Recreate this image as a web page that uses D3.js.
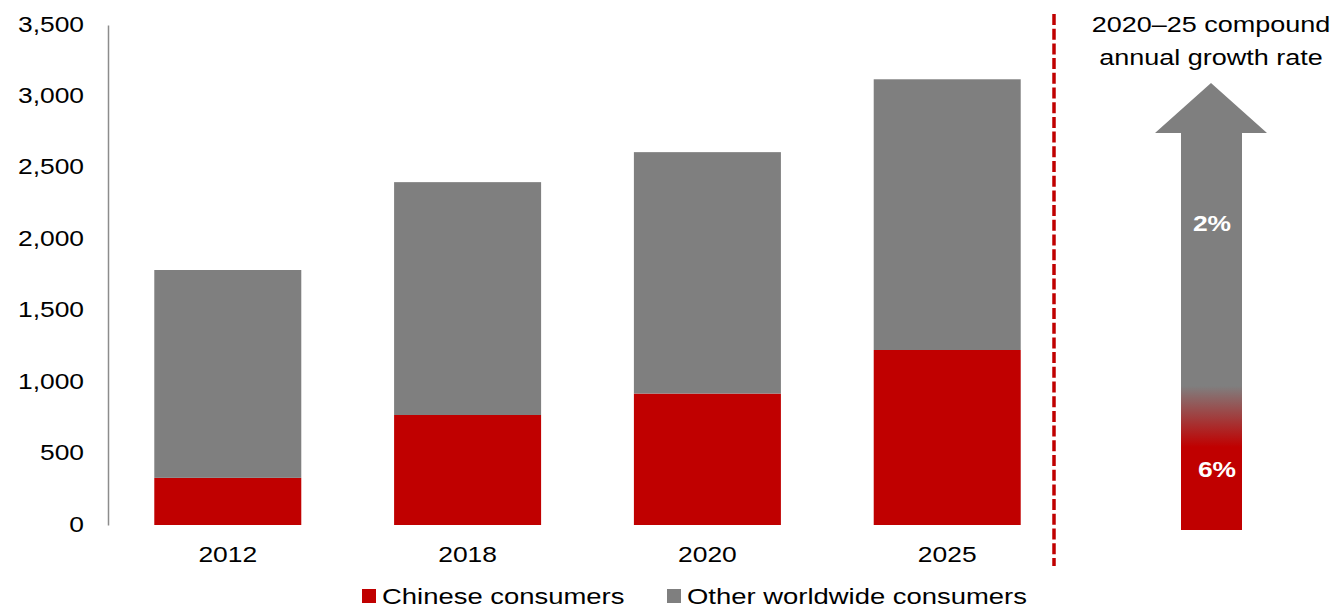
<!DOCTYPE html>
<html>
<head>
<meta charset="utf-8">
<script src="https://cdn.jsdelivr.net/npm/d3@7"></script>
<style>
  html, body { margin: 0; padding: 0; background: #fff; }
  svg { display: block; font-family: "Liberation Sans", Arial, sans-serif; }
</style>
</head>
<body>
<svg id="chart" width="1332" height="607"></svg>
<script>
// Consumers by year (stacked), and 2020–25 growth rates
const years = ["2012", "2018", "2020", "2025"];
const chinese = [330, 770, 920, 1225];
const otherWorldwide = [1455, 1630, 1690, 1895];
const yTicks = [0, 500, 1000, 1500, 2000, 2500, 3000, 3500];
const seriesNames = ["Chinese consumers", "Other worldwide consumers"];
const cagrLabels = ["2%", "6%"]; // other worldwide, chinese
const cagrTitle = ["2020–25 compound", "annual growth rate"];

const RED = "#c00000";
const GREY = "#7f7f7f";
const SX = 1.2; // horizontal stretch of the lettering

const svg = d3.select("#chart");

const rows = years.map((y, i) => ({ year: y, chinese: chinese[i], other: otherWorldwide[i] }));
const stack = d3.stack().keys(["chinese", "other"]);
const layers = stack(rows);
const colors = { chinese: RED, other: GREY };

const x = d3.scaleBand().domain(years).range([108, 1067]).paddingInner(0.387).paddingOuter(0.193);
const y = d3.scaleLinear().domain([0, 3500]).range([525, 25]);

// stretched text helper
function stretchedText(sel, tx, ty, str, opts = {}) {
  return sel.append("text")
    .attr("transform", `translate(${tx},${ty}) scale(${opts.sx || SX},1)`)
    .attr("text-anchor", opts.anchor || "middle")
    .attr("font-size", opts.size || 22)
    .attr("font-weight", opts.weight || "normal")
    .attr("fill", opts.fill || "#000")
    .text(str);
}

// y axis
const yAxis = svg.append("g")
  .attr("transform", "translate(108,0)")
  .call(d3.axisLeft(y).tickValues(yTicks).tickSize(0).tickFormat(d3.format(",")));
yAxis.select(".domain").attr("stroke", "#8c8c8c").attr("stroke-width", 1.5);
yAxis.selectAll(".tick text")
  .attr("x", 0)
  .attr("dy", null)
  .attr("transform", "translate(-24,6) scale(" + SX + ",1)")
  .attr("font-size", 22)
  .attr("font-family", "Liberation Sans, Arial, sans-serif")
  .attr("fill", "#000");

// stacked bars
svg.append("g").selectAll("g")
  .data(layers)
  .join("g")
  .attr("fill", d => colors[d.key])
  .selectAll("rect")
  .data(d => d)
  .join("rect")
  .attr("x", d => x(d.data.year))
  .attr("width", x.bandwidth())
  .attr("y", d => y(d[1]))
  .attr("height", d => y(d[0]) - y(d[1]));

// category labels
const xAxis = svg.append("g")
  .attr("transform", "translate(0,525)")
  .call(d3.axisBottom(x).tickSize(0));
xAxis.select(".domain").remove();
xAxis.selectAll(".tick text")
  .attr("y", 0)
  .attr("dy", null)
  .attr("transform", "translate(0,37) scale(" + SX + ",1)")
  .attr("font-size", 22)
  .attr("font-family", "Liberation Sans, Arial, sans-serif")
  .attr("fill", "#000");

// divider
svg.append("line")
  .attr("x1", 1054).attr("x2", 1054)
  .attr("y1", 14).attr("y2", 566)
  .attr("stroke", RED)
  .attr("stroke-width", 3.5)
  .attr("stroke-dasharray", "11,3.7");

// growth-rate panel title
cagrTitle.forEach((t, i) => stretchedText(svg, 1211, 32 + i * 33, t, { size: 22.5 }));

// growth arrow with grey-to-red fade
const defs = svg.append("defs");
const grad = defs.append("linearGradient")
  .attr("id", "arrowFade")
  .attr("gradientUnits", "userSpaceOnUse")
  .attr("x1", 0).attr("x2", 0).attr("y1", 83).attr("y2", 530);
grad.append("stop").attr("offset", (386 - 83) / (530 - 83)).attr("stop-color", GREY);
grad.append("stop").attr("offset", (447 - 83) / (530 - 83)).attr("stop-color", RED);

const ax = { tipX: 1211, tipY: 83, headY: 133, headL: 1155, headR: 1267, shaftL: 1181, shaftR: 1242, bottom: 530 };
const arrowPath = d3.path();
arrowPath.moveTo(ax.tipX, ax.tipY);
arrowPath.lineTo(ax.headR, ax.headY);
arrowPath.lineTo(ax.shaftR, ax.headY);
arrowPath.lineTo(ax.shaftR, ax.bottom);
arrowPath.lineTo(ax.shaftL, ax.bottom);
arrowPath.lineTo(ax.shaftL, ax.headY);
arrowPath.lineTo(ax.headL, ax.headY);
arrowPath.closePath();
svg.append("path").attr("d", arrowPath.toString()).attr("fill", "url(#arrowFade)");

stretchedText(svg, 1212, 231, cagrLabels[0], { size: 22, weight: "bold", fill: "#fff" });
stretchedText(svg, 1217, 477, cagrLabels[1], { size: 22, weight: "bold", fill: "#fff" });

// legend
const legendItems = [
  { name: seriesNames[0], color: RED, x: 362 },
  { name: seriesNames[1], color: GREY, x: 667 }
];
const lg = svg.append("g");
legendItems.forEach(it => {
  lg.append("rect").attr("x", it.x).attr("y", 589).attr("width", 14).attr("height", 14).attr("fill", it.color);
  stretchedText(lg, it.x + 20, 604, it.name, { size: 22.5, anchor: "start", sx: 1.22 });
});
</script>
</body>
</html>
